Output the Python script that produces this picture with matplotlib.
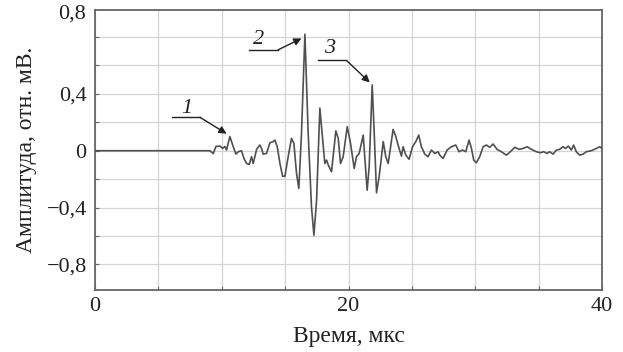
import matplotlib
matplotlib.use("Agg")
import matplotlib.pyplot as plt
import numpy as np

# Signal trace (time in µs, amplitude in rel. mV)
time_us = [0.0, 9.07, 9.33, 9.54, 9.86, 10.07, 10.25, 10.38, 10.64, 10.9, 11.12, 11.3, 11.56,
           11.75, 11.96, 12.17, 12.35, 12.48, 12.75, 13.0, 13.14, 13.27, 13.53, 13.8, 14.06,
           14.19, 14.38, 14.59, 14.8, 14.98, 15.24, 15.5, 15.69, 15.9, 16.08, 16.29, 16.56,
           16.82, 17.08, 17.27, 17.48, 17.74, 17.92, 18.13, 18.27, 18.4, 18.66, 19.0, 19.19,
           19.37, 19.58, 19.9, 20.16, 20.45, 20.63, 20.84, 21.16, 21.47, 21.63, 21.87, 22.03,
           22.21, 22.42, 22.74, 22.94, 23.13, 23.52, 23.73, 23.99, 24.18, 24.31, 24.52, 24.78,
           25.05, 25.31, 25.54, 25.75, 26.02, 26.28, 26.54, 26.81, 27.07, 27.2, 27.46, 27.78,
           28.12, 28.46, 28.72, 28.99, 29.25, 29.51, 29.7, 29.88, 30.09, 30.35, 30.62, 30.88,
           31.14, 31.41, 31.72, 32.06, 32.46, 32.77, 33.12, 33.46, 33.77, 34.09, 34.43, 34.82,
           35.14, 35.4, 35.66, 35.87, 36.14, 36.4, 36.66, 36.92, 37.13, 37.34, 37.58, 37.76,
           37.97, 38.24, 38.5, 38.76, 39.16, 39.55, 39.82, 40.0]
amplitude = [0.0, 0.0, -0.02, 0.03, 0.033, 0.016, 0.03, 0.005, 0.10, 0.03, -0.024, -0.007, 0.0,
             -0.054, -0.09, -0.096, -0.042, -0.09, 0.01, 0.04, 0.016, -0.024, -0.019, 0.056, 0.064,
             0.075, 0.028, -0.09, -0.18, -0.18, -0.042, 0.087, 0.052, -0.16, -0.266, 0.12, 0.82,
             0.12, -0.395, -0.595, -0.35, 0.30, 0.12, -0.09, -0.066, -0.10, -0.148, 0.14, 0.087,
             -0.09, -0.042, 0.17, 0.052, -0.125, -0.042, -0.019, 0.11, -0.278, -0.113, 0.463, 0.12,
             -0.296, -0.18, 0.064, -0.042, -0.09, 0.15, 0.10, 0.016, -0.038, 0.028, -0.031, -0.06,
             0.028, 0.064, 0.11, 0.028, -0.024, -0.042, 0.005, -0.019, -0.007, -0.031, -0.054, 0.005,
             0.028, 0.04, -0.007, 0.005, -0.007, 0.075, 0.016, -0.066, -0.085, -0.042, 0.028, 0.04,
             0.024, 0.047, 0.01, -0.007, -0.031, -0.007, 0.024, 0.01, 0.016, 0.028, 0.01, -0.007,
             -0.014, -0.007, -0.019, -0.007, -0.024, 0.005, 0.01, 0.028, 0.016, 0.033, 0.005, 0.04,
             -0.007, -0.031, -0.024, -0.007, 0.0, 0.016, 0.028, 0.016]

# Annotations: label, text position, leader start, leader corner, arrow tip
ann_labels = ["1", "2", "3"]
ann_text = [(7.23, 0.30), (12.88, 0.78), (18.53, 0.72)]
ann_lead_start = [(6.04, 0.235), (12.17, 0.71), (17.6, 0.635)]
ann_lead_corner = [(8.28, 0.235), (14.45, 0.71), (19.84, 0.635)]
ann_tip = [(10.38, 0.12), (16.29, 0.79), (21.68, 0.48)]

x_ticks = np.arange(0, 41, 5)
x_labels = ["0", "", "", "", "20", "", "", "", "40"]
y_ticks = np.round(np.arange(-0.8, 0.81, 0.2), 1)
y_labels = ["\u22120,8", "", "\u22120,4", "", "0", "", "0,4", "", ""]

plt.rcParams['font.family'] = ['Liberation Serif', 'DejaVu Serif']

fig = plt.figure(figsize=(6.23, 3.52), dpi=100)
ax = fig.add_axes([0.1525, 0.176, 0.8138, 0.7956])

ax.plot(time_us, amplitude, color='#505050', lw=1.2, zorder=3, solid_joinstyle='round')

for lab, tp, ls, lc, tip in zip(ann_labels, ann_text, ann_lead_start, ann_lead_corner, ann_tip):
    ax.plot([ls[0], lc[0]], [ls[1], lc[1]], color='#222222', lw=1.0, zorder=4)
    ax.annotate("", xy=tip, xytext=lc,
                arrowprops=dict(arrowstyle='-|>', color='#222222', lw=1.0,
                                mutation_scale=11, shrinkA=0, shrinkB=0), zorder=4)
    ax.text(tp[0], tp[1], lab, fontsize=16, style='italic', ha='center', va='center',
            color='#222222', zorder=4)

ax.set_xlim(0, 40)
ax.set_ylim(-0.98, 0.99)
ax.set_xticks(x_ticks)
ax.set_xticklabels(x_labels)
ax.set_yticks(y_ticks)
ax.set_yticklabels(y_labels)
ax.text(-0.018, 0.965, "0,8", transform=ax.get_yaxis_transform(), ha='right', va='center',
        fontsize=16, color='#222222')
ax.grid(True, color='#d4d4d4', lw=0.9)
ax.set_axisbelow(True)
ax.tick_params(direction='in', length=3, width=0.8, color='#666666', labelsize=16,
               labelcolor='#222222', pad=6)
ax.tick_params(axis='x', pad=5)
for s in ax.spines.values():
    s.set_color('#666666')
    s.set_linewidth(1.3)

ax.set_xlabel("Время, мкс", fontsize=17, color='#222222', labelpad=7)
ax.set_ylabel("Амплитуда, отн. мВ.", fontsize=17, color='#222222', labelpad=7)

fig.savefig("out.png", dpi=100)
